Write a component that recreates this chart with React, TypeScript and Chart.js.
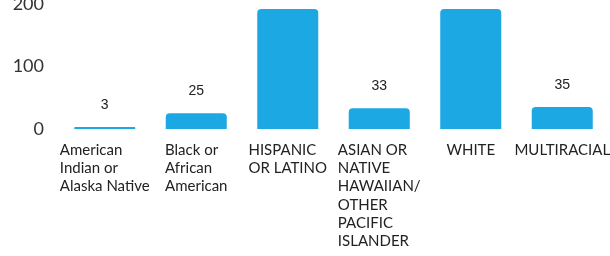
import { useEffect, useRef } from "react";
import { Chart, registerables } from "chart.js";
Chart.register(...registerables);

const categories: string[][] = [
  ["American", "Indian or", "Alaska Native"],
  ["Black or", "African", "American"],
  ["HISPANIC", "OR LATINO"],
  ["ASIAN OR", "NATIVE", "HAWAIIAN/", "OTHER", "PACIFIC", "ISLANDER"],
  ["WHITE"],
  ["MULTIRACIAL"],
];
const values = [3, 25, 192, 33, 192, 35];
const yTickValues = [0, 100, 200];

const OFFSET = 40;
const W = 610;
const H = 256 + OFFSET;

const labelsPlugin = {
  id: "customLabels",
  afterDatasetsDraw(chart: any) {
    const ctx = chart.ctx;
    const meta = chart.getDatasetMeta(0);
    const xScale = chart.scales.x;
    const area = chart.chartArea;
    ctx.save();
    // value labels
    ctx.font = "14px 'Liberation Sans', Arial, sans-serif";
    ctx.fillStyle = "#222";
    ctx.textAlign = "center";
    ctx.textBaseline = "middle";
    meta.data.forEach((bar: any, i: number) => {
      ctx.fillText(String(values[i]), bar.x, bar.y - 22);
    });
    // category labels (left-aligned block centred on the category)
    ctx.font = "15px Lato, sans-serif";
    ctx.textAlign = "left";
    categories.forEach((lines, i) => {
      const cx = xScale.getPixelForValue(i);
      const w = Math.max(...lines.map((l) => ctx.measureText(l).width));
      const left = cx - w / 2;
      lines.forEach((l, j) => {
        ctx.fillText(l, left, area.bottom + 21 + j * 18.3);
      });
    });
    ctx.restore();
  },
};

export default function App() {
  const ref = useRef<HTMLCanvasElement | null>(null);
  useEffect(() => {
    if (!ref.current) return;
    const chart = new Chart(ref.current, {
      type: "bar",
      data: {
        labels: categories.map((c) => c.join(" ")),
        datasets: [
          {
            data: values,
            backgroundColor: "#1CA8E3",
            barPercentage: 0.667,
            categoryPercentage: 1,
            borderRadius: { topLeft: 4, topRight: 4, bottomLeft: 0, bottomRight: 0 },
            borderSkipped: "bottom",
          },
        ],
      },
      options: {
        animation: false,
        responsive: false,
        events: [],
        layout: { padding: { top: 19, right: 2, bottom: 127, left: 0 } },
        plugins: { legend: { display: false }, tooltip: { enabled: false } },
        scales: {
          x: {
            display: false,
          },
          y: {
            min: 0,
            max: 229,
            grid: { display: false, drawTicks: false },
            border: { display: false },
            afterFit: (scale: any) => {
              scale.width = 59;
            },
            afterBuildTicks: (scale: any) => {
              scale.ticks = yTickValues.map((v) => ({ value: v }));
            },
            ticks: {
              padding: 15,
              color: "#333",
              font: { family: "Lato, sans-serif", size: 18 },
            },
          },
        },
      },
      plugins: [labelsPlugin],
    });
    return () => chart.destroy();
  }, []);
  return (
    <div
      style={{
        position: "fixed",
        left: 0,
        top: -OFFSET,
        width: W,
        height: H,
        background: "#fff",
      }}
    >
      <canvas ref={ref} width={W} height={H} style={{ display: "block" }} />
    </div>
  );
}
